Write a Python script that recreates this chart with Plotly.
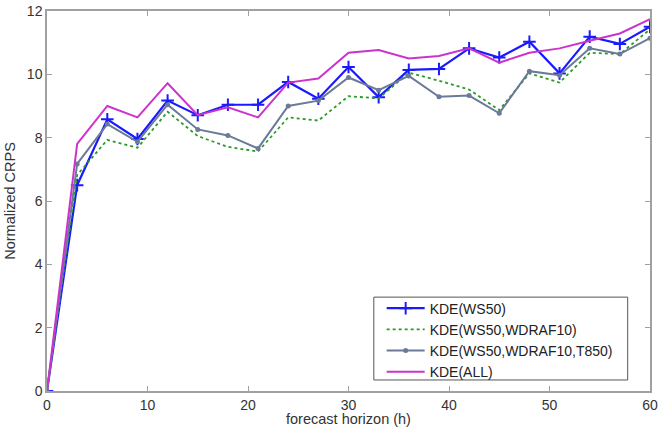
import plotly.graph_objects as go

hours = [0, 3, 6, 9, 12, 15, 18, 21, 24, 27, 30, 33, 36, 39, 42, 45, 48, 51, 54, 57, 60]
ws50 = [0, 6.5, 8.58, 7.96, 9.17, 8.71, 9.04, 9.04, 9.76, 9.23, 10.23, 9.28, 10.14, 10.17, 10.82, 10.53, 11.03, 10.03, 11.19, 10.96, 11.5]
ws50_wdraf10 = [0, 6.82, 7.93, 7.68, 8.82, 8.05, 7.71, 7.56, 8.64, 8.54, 9.31, 9.24, 10.05, 9.8, 9.52, 8.87, 10.03, 9.74, 10.68, 10.64, 11.42]
ws50_wdraf10_t850 = [0, 7.17, 8.43, 7.87, 9.04, 8.26, 8.07, 7.66, 9.0, 9.17, 9.9, 9.5, 9.95, 9.29, 9.33, 8.77, 10.1, 9.97, 10.82, 10.64, 11.14]
kde_all = [0, 7.8, 9.0, 8.64, 9.72, 8.71, 8.96, 8.64, 9.74, 9.87, 10.68, 10.77, 10.5, 10.58, 10.82, 10.37, 10.68, 10.82, 11.06, 11.29, 11.74]

names = ["KDE(WS50)", "KDE(WS50,WDRAF10)", "KDE(WS50,WDRAF10,T850)", "KDE(ALL)"]
x_ticks = [0, 10, 20, 30, 40, 50, 60]
y_ticks = [0, 2, 4, 6, 8, 10, 12]

fig = go.Figure()
fig.add_trace(go.Scatter(x=hours, y=ws50, name=names[0], mode="lines+markers",
                         line=dict(color="#1a1aff", width=2.2),
                         marker=dict(symbol="cross-thin", size=9, line=dict(color="#1a1aff", width=2))))
fig.add_trace(go.Scatter(x=hours, y=ws50_wdraf10, name=names[1], mode="lines",
                         line=dict(color="#2a9a2a", width=1.8, dash="dot")))
fig.add_trace(go.Scatter(x=hours, y=ws50_wdraf10_t850, name=names[2], mode="lines+markers",
                         line=dict(color="#6b7a98", width=2),
                         marker=dict(symbol="circle", size=5, color="#6b7a98")))
fig.add_trace(go.Scatter(x=hours, y=kde_all, name=names[3], mode="lines",
                         line=dict(color="#cc33cc", width=2)))

axis_common = dict(showgrid=False, zeroline=False, showline=True, mirror="ticks",
                   linecolor="#a0a0a0", linewidth=1.5, ticks="inside", ticklen=5,
                   tickcolor="#a0a0a0", automargin=False,
                   tickfont=dict(family="Liberation Sans, Arial", size=14, color="#333333"))

# legend frame (drawn as a shape so its size matches the original box)
fig.add_shape(type="rect", xref="paper", yref="paper",
              x0=0.542, x1=0.963, y0=0.029, y1=0.247,
              line=dict(color="#555555", width=1), fillcolor="white", layer="above")

fig.update_layout(
    template="none",
    width=660, height=427,
    margin=dict(l=47, r=10, t=11, b=36),
    paper_bgcolor="white", plot_bgcolor="white",
    font=dict(family="Liberation Sans, Arial", size=14, color="#333333"),
    xaxis=dict(range=[0, 60], tickvals=x_ticks, **axis_common,
               title=dict(text="forecast horizon (h)", standoff=0, font=dict(size=14.5))),
    yaxis=dict(range=[0, 12], tickvals=y_ticks, **axis_common,
               title=dict(text="Normalized CRPS", standoff=8, font=dict(size=14.5))),
    legend=dict(x=0.555, y=0.259, xanchor="left", yanchor="top",
                borderwidth=0, bgcolor="rgba(0,0,0,0)",
                font=dict(size=14, color="#222222"), tracegroupgap=0,
                itemwidth=38),
    showlegend=True,
)

fig.write_html("out.html")
